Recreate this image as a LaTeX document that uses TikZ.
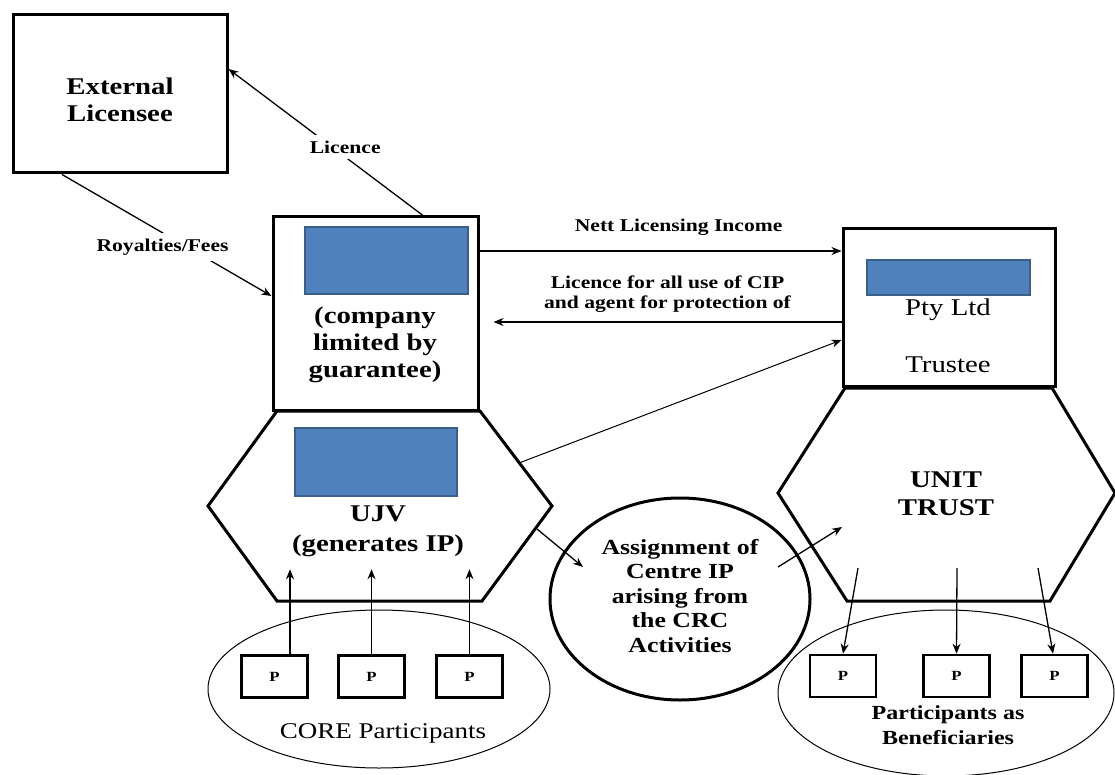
\documentclass[tikz,border=0pt]{standalone}
\usepackage{fontspec}
\setmainfont{Liberation Serif}[FakeStretch=1.2]
\usetikzlibrary{arrows.meta,shapes.geometric}
\definecolor{barblue}{HTML}{4F81BD}
\definecolor{barline}{HTML}{3A5F8B}
\tikzset{%
	block/.style    = {draw, line width=3pt, rectangle, inner sep=0pt},
	bar/.style      = {draw=barline, fill=barblue, line width=2.5pt, rectangle, inner sep=0pt}, % blue placeholder
	pbox/.style     = {draw, line width=2.5pt, rectangle, minimum width=66pt, minimum height=42pt,
		font=\bfseries\fontsize{14}{16}\selectfont},
	bigtext/.style  = {align=center, font=\bfseries\fontsize{24}{27}\selectfont},
	lbl/.style      = {align=center, font=\bfseries\fontsize{18}{20}\selectfont}, % edge labels
	hex/.style      = {line width=3pt, line join=miter},
	group/.style    = {draw, ellipse, line width=1pt, inner sep=0pt},
	flow/.style     = {line width=1.3pt, -{Stealth[length=10pt,width=8pt]}}
}

\begin{document}
\begin{tikzpicture}[x=1pt,y=-1pt]
	\useasboundingbox (0,0) rectangle (1115,775);

	% boxes
	\node[block, minimum width=214pt, minimum height=158pt] (ext) at (120,94) {};
	\node[bigtext] (exttxt) at (120,100) {External\\Licensee};

	\node[block, minimum width=205pt, minimum height=193pt] (comp) at (375.5,313.5) {};
	\node[bar, minimum width=163pt, minimum height=67pt] (compbar) at (386.5,260.5) {};
	\node[bigtext] (comptxt) at (375,345) {(company\\limited by\\guarantee)};

	\node[block, minimum width=212pt, minimum height=157pt] (pty) at (949,307.5) {};
	\node[bar, minimum width=163pt, minimum height=35pt] (ptybar) at (948.5,277.5) {};
	\node[font=\fontsize{24}{27}\selectfont] (ptyname) at (948,310) {Pty Ltd};
	\node[font=\fontsize{24}{27}\selectfont] (trustee) at (948,365) {Trustee};

	% hexagons
	\coordinate (u1) at (277,411);
	\coordinate (u2) at (480,411);
	\coordinate (u3) at (552,506);
	\coordinate (u4) at (482,601);
	\coordinate (u5) at (277,601);
	\coordinate (u6) at (208,506);
	\draw[hex] (u1) -- (u2) -- (u3) -- (u4) -- (u5) -- (u6) -- cycle;
	\node[bar, minimum width=162pt, minimum height=68pt] (ujvbar) at (376,462) {};
	\node[bigtext, font=\bfseries\fontsize{24}{30}\selectfont] (ujvtxt) at (378,531) {UJV\\(generates IP)};

	\coordinate (t1) at (845,388);
	\coordinate (t2) at (1052,388);
	\coordinate (t3) at (1115,493);
	\coordinate (t4) at (1050,601);
	\coordinate (t5) at (847,601);
	\coordinate (t6) at (778,493);
	\draw[hex] (t1) -- (t2) -- (t3) -- (t4) -- (t5) -- (t6) -- cycle;
	\node[bigtext, font=\bfseries\fontsize{24}{28}\selectfont] (trusttxt) at (946,494) {UNIT\\TRUST};

	% assignment circle
	\node[draw, ellipse, line width=3pt, inner sep=0pt, minimum width=260pt, minimum height=202pt] (assign) at (680,599) {};
	\node[align=center, font=\bfseries\fontsize{21.5}{24.5}\selectfont] (assigntxt) at (680,596)
		{Assignment of\\Centre IP\\arising from\\the CRC\\Activities};

	% participants
	\node[group, minimum width=342pt, minimum height=158pt] (core) at (379,689) {};
	\node[font=\fontsize{22.5}{24}\selectfont] (coretxt) at (383,733) {CORE Participants};
	\node[pbox] (pl1) at (274.5,676.5) {P};
	\node[pbox] (pl2) at (371.5,676.5) {P};
	\node[pbox] (pl3) at (469.5,676.5) {P};

	\node[group, minimum width=336pt, minimum height=166pt] (benef) at (946,693) {};
	\node[align=center, font=\bfseries\fontsize{20}{25}\selectfont] (beneftxt) at (948,725) {Participants as\\Beneficiaries};
	\node[pbox] (pr1) at (843,676) {P};
	\node[pbox] (pr2) at (956.5,676) {P};
	\node[pbox] (pr3) at (1054.5,676) {P};

	% connectors
	\coordinate (ujvout)   at (519,463);
	\coordinate (ujvdown)  at (537,529);
	\coordinate (assignin) at (583,567);
	\coordinate (assignout) at (778,567);
	\coordinate (trustin)  at (842,527);
	\coordinate (tr1) at (858,568);
	\coordinate (tr2) at (957,568);
	\coordinate (tr3) at (1038,568);

	\draw[flow] ([xshift=47.5pt]comp.north) -- node[lbl, fill=white, inner sep=6pt, pos=0.4, yshift=10pt] (liclbl) {Licence} ([yshift=25pt]ext.east);
	\draw[flow] ([xshift=-58pt]ext.south) -- node[lbl, fill=white, inner sep=6pt, pos=0.48, yshift=-14pt] (roylbl) {Royalties/Fees} ([yshift=17.5pt]comp.west);
	\draw[flow] ([yshift=62.5pt]comp.east) -- node[lbl, above=12pt, pos=0.55] (nettlbl) {Nett Licensing Income} ([yshift=56.5pt]pty.west);
	\draw[flow] ([yshift=-14.5pt]pty.west) -- node[lbl, above=6pt, pos=0.5] (ciplbl) {Licence for all use of CIP\\and agent for protection of} ([xshift=14pt,yshift=-8.5pt]comp.east);
	\draw[flow, line width=1pt] (ujvout) -- ([yshift=-32.5pt]pty.west);
	\draw[flow] (ujvdown) -- (assignin);
	\draw[flow] (assignout) -- (trustin);

	\draw[flow] ([xshift=15.5pt]pl1.north) -- ++(0,-85);
	\draw[flow] (pl2.north) -- ++(0,-85);
	\draw[flow] (pl3.north) -- ++(0,-85);

	\draw[flow] (tr1) -- (pr1.north);
	\draw[flow] (tr2) -- (pr2.north);
	\draw[flow] (tr3) -- ([xshift=-1.5pt]pr3.north);
\end{tikzpicture}
\end{document}
